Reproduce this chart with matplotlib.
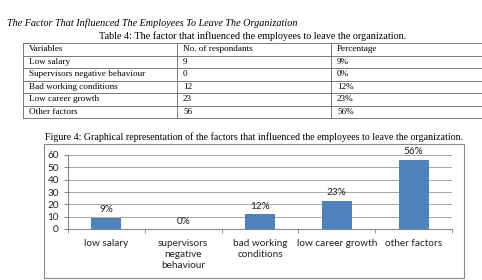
import matplotlib
matplotlib.use('Agg')
import matplotlib.pyplot as plt
from matplotlib.patches import Rectangle

# data
categories = ['low salary', 'supervisors\nnegative\nbehaviour', 'bad working\nconditions',
              'low career growth', 'other factors']
values = [9, 0, 12, 23, 56]
bar_labels = ['9%', '0%', '12%', '23%', '56%']

table_header = ['Variables', 'No. of respondants', 'Percentage']
table_vars = ['Low salary', 'Supervisors negative behaviour', 'Bad working conditions',
              'Low career growth', 'Other factors']
table_counts = ['9', '0', '12', '23', '56']
table_pcts = ['9%', '0%', '12%', '23%', '56%']

W, H = 482, 280
fig = plt.figure(figsize=(W / 100, H / 100), dpi=100)

# document layer in pixel coords
doc = fig.add_axes([0, 0, 1, 1])
doc.set_xlim(0, W)
doc.set_ylim(H, 0)
doc.axis('off')

serif = 'Liberation Serif'
doc.text(7, 23, 'The Factor That Influenced The Employees To Leave The Organization',
         fontsize=7.25, family=serif, style='italic', va='center', ha='left')
doc.text(253, 36, 'Table 4: The factor that influenced the employees to leave the organization.',
         fontsize=7.3, family=serif, va='center', ha='center')

# table
col_x = [23, 177, 331, 490]
row_y = [43, 55.5, 68, 80.5, 93, 105.5, 118]
lc = '#777777'
for y in row_y:
    doc.plot([col_x[0], col_x[-1]], [y, y], color=lc, lw=0.7)
for x in col_x[:-1]:
    doc.plot([x, x], [row_y[0], row_y[-1]], color=lc, lw=0.7)
rows = [table_header] + [list(r) for r in zip(table_vars, table_counts, table_pcts)]
for i, row in enumerate(rows):
    yc = (row_y[i] + row_y[i + 1]) / 2
    for j, txt in enumerate(row):
        doc.text(col_x[j] + 6, yc, txt, fontsize=6.6, family=serif, va='center', ha='left')

doc.text(254, 137, 'Figure 4: Graphical representation of the factors that influenced the employees to leave the organization.',
         fontsize=7.15, family=serif, va='center', ha='center')

# chart border
doc.add_patch(Rectangle((44, 144), 420, 134, fill=False, edgecolor='#888888', lw=0.8))

# chart
ax = fig.add_axes([68 / W, (H - 229) / H, (452 - 68) / W, (229 - 155) / H])
x = list(range(len(categories)))
ax.bar(x, values, width=0.39, color='#4f81bd', zorder=3)
ax.set_xlim(-0.5, len(categories) - 0.5)
ax.set_ylim(0, 60)
ax.set_yticks(range(0, 61, 10))
ax.yaxis.grid(True, color='#a6a6a6', lw=0.7, zorder=0)
for s in ['top', 'right']:
    ax.spines[s].set_visible(False)
for s in ['left', 'bottom']:
    ax.spines[s].set_color('#888888')
    ax.spines[s].set_linewidth(0.8)
sans = 'Lato'
ax.set_xticks(x)
ax.set_xticklabels(categories, fontsize=7.2, family=sans, linespacing=1.3, va='top')
ax.tick_params(axis='x', length=0, pad=7, colors='#222222')
ax.set_xticks([i + 0.5 for i in range(-1, len(categories))], minor=True)
ax.tick_params(axis='x', which='minor', length=3, direction='out', color='#888888')
ax.tick_params(axis='y', labelsize=7.2, length=3, color='#888888', colors='#222222')
for lab in ax.get_yticklabels():
    lab.set_family(sans)
for xi, v, lab in zip(x, values, bar_labels):
    ax.annotate(lab, (xi, v), xytext=(0, 2.5), textcoords='offset points',
                ha='center', va='bottom', fontsize=7.2, family=sans, color='#222222')

fig.savefig('out.png', dpi=100)
